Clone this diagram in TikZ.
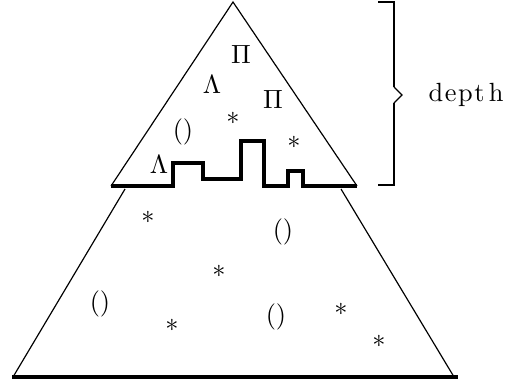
\documentclass[tikz,border=0pt]{standalone}
\usepackage{tikz}
\usetikzlibrary{calc}
\tikzset{
  side/.style={line width=0.45pt},
  cut/.style={line width=1.3pt},
  brack/.style={line width=0.9pt},
  sym/.style={inner sep=0pt, font=\normalsize},
}

\begin{document}
\begin{tikzpicture}[x=0.38pt, y=-0.38pt]
  \useasboundingbox (0,0) rectangle (506,385);
  % upper part (top of the tree)
  \coordinate (apex) at (233,2);
  \coordinate (cutL) at (111,186);
  \coordinate (cutR) at (357,186);
  \draw[side] (cutL) -- (apex) -- (cutR);
  % lower part
  \coordinate (lowTL) at (125,189);
  \coordinate (lowTR) at (341,189);
  \coordinate (baseL) at (12,377);
  \coordinate (baseR) at (458,377);
  \draw[side] (lowTL) -- ([xshift=0.38pt]baseL);
  \draw[side] (lowTR) -- ([xshift=-1.5pt]baseR);
  \draw[cut] (baseL) -- (baseR);
  % frontier
  \draw[cut] (cutL) -- (173,186) |- (203,163) |- (241,179) |- (264,141)
    |- (288,186) |- (303,171) |- (cutR);
  % depth bracket
  \draw[brack] (378,2) -- (394,2) -- (394,87);
  \draw[brack] (394,103) -- (394,185) -- (378,185);
  \draw[side] (394,87) -- (402,95) -- (394,103);
  \node[sym] (depth) at (466,95) {d\kern.6pt e\kern.6pt p\kern.6pt t\kern1.6pt h};
  % symbols in the top
  \node[sym] (p1) at (241,54) {$\Pi$};
  \node[sym] (l1) at (212,84) {$\Lambda$};
  \node[sym] (p2) at (273,99) {$\Pi$};
  \node[sym] (a1) at (233,118) {$*$};
  \node[sym] (b1) at (183,132) {$()$};
  \node[sym] (a2) at (294,142) {$*$};
  \node[sym] (l2) at (159,164) {$\Lambda$};
  % symbols in the bottom
  \node[sym] (a3) at (148,217) {$*$};
  \node[sym] (b2) at (283,232) {$()$};
  \node[sym] (a4) at (219,271) {$*$};
  \node[sym] (b3) at (100,304) {$()$};
  \node[sym] (a5) at (172,325) {$*$};
  \node[sym] (b4) at (276,317) {$()$};
  \node[sym] (a6) at (341,309) {$*$};
  \node[sym] (a7) at (379,341) {$*$};
\end{tikzpicture}
\end{document}
